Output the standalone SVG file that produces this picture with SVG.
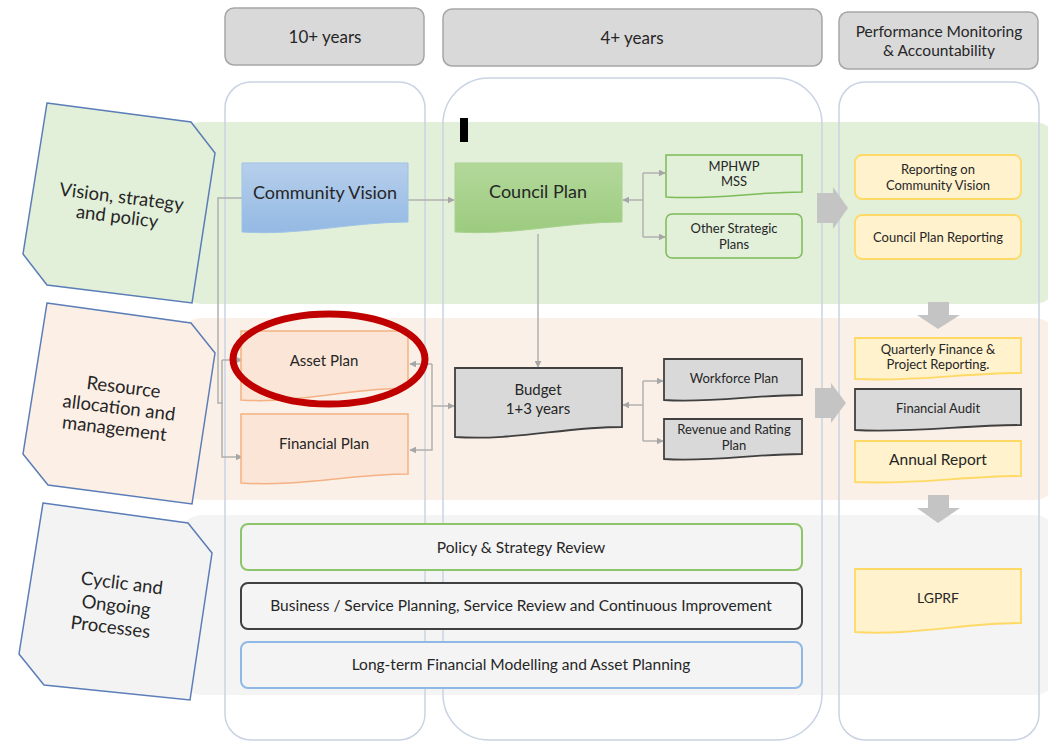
<svg xmlns="http://www.w3.org/2000/svg" width="1048" height="743" viewBox="0 0 1048 743">
<defs>
<style>
text{font-family:Lato,"Open Sans","Liberation Sans",sans-serif;fill:#262626;text-anchor:middle}
.hdr{fill:#d9d9d9;stroke:#a6a6a6;stroke-width:1.5}
.col{fill:none;stroke:#c9d3e3;stroke-width:1.5}
.side{stroke:#5b7db8;stroke-width:1.5}
.con{fill:none;stroke:#b0b0b0;stroke-width:1.5}
.blk{fill:#c4c4c4}
.grn{fill:#e2efd9;stroke:#7cbb57;stroke-width:1.5}
.yel{fill:#fff2cc;stroke:#ffd966;stroke-width:1.8}
.gry{fill:#d9d9d9;stroke:#404040;stroke-width:1.8}
.org{fill:#fbe5d6;stroke:#f4b183;stroke-width:1.5}
.t11{font-size:13px}
.t13{font-size:15.5px}
.t14{font-size:17px}
.tar{font-size:15.5px}
.t15{font-size:15px}
.t16{font-size:18px}
.t17{font-size:18.5px}
.tph{font-size:15.5px}
</style>
<linearGradient id="gBlue" x1="0" y1="0" x2="0" y2="1"><stop offset="0" stop-color="#b6cfec"/><stop offset="1" stop-color="#94b9e3"/></linearGradient>
<linearGradient id="gGreen" x1="0" y1="0" x2="0" y2="1"><stop offset="0" stop-color="#b3d89a"/><stop offset="1" stop-color="#9ccb7f"/></linearGradient>
<marker id="ah" viewBox="0 0 10 10" refX="9" refY="5" markerWidth="7" markerHeight="7" orient="auto-start-reverse" markerUnits="userSpaceOnUse"><path d="M0,0 L10,5 L0,10 Z" fill="#a6a6a6"/></marker>
</defs>
<rect width="1048" height="743" fill="#ffffff"/>

<!-- row bands -->
<g id="bands">
<rect x="178" y="122" width="880" height="182" rx="24" fill="#e2efd9"/>
<rect x="178" y="318" width="880" height="182" rx="24" fill="#fbf0e7"/>
<rect x="178" y="515" width="880" height="180" rx="24" fill="#f4f4f4"/>
</g>

<!-- columns -->
<g id="columns">
<rect class="col" x="225" y="82" width="200" height="658" rx="26"/>
<rect class="col" x="443" y="78" width="379" height="662" rx="46"/>
<rect class="col" x="839" y="82" width="200" height="658" rx="26"/>
</g>

<!-- headers -->
<g id="hdr-10">
<rect class="hdr" x="225" y="8" width="199" height="57" rx="9"/>
<text class="t14" x="325" y="43">10+ years</text>
</g>
<g id="hdr-4">
<rect class="hdr" x="443" y="9" width="379" height="57" rx="9"/>
<text class="t14" x="632" y="44">4+ years</text>
</g>
<g id="hdr-perf">
<rect class="hdr" x="839" y="12" width="199" height="57" rx="9"/>
<text class="tph" x="939" y="37">Performance Monitoring</text>
<text class="tph" x="939" y="56">&amp; Accountability</text>
</g>

<!-- side labels -->
<g id="side-vision">
<polygon class="side" fill="#e2efd9" points="47,103 191,122 215,153 192,303 47,285 23,254"/>
<g transform="rotate(7,119,210)">
<text class="t17" x="120" y="203">Vision, strategy</text>
<text class="t17" x="118" y="223">and policy</text>
</g>
</g>
<g id="side-resource">
<polygon class="side" fill="#fcefe6" points="47,303 191,323 215,353 192,504 48,485 23,454"/>
<g transform="rotate(7,119,408)">
<text class="t17" x="121" y="393">Resource</text>
<text class="t17" x="119" y="414">allocation and</text>
<text class="t17" x="117" y="435">management</text>
</g>
</g>
<g id="side-cyclic">
<polygon class="side" fill="#f3f3f3" points="43,503 188,523 212,553 190,700 44,685 19,654"/>
<g transform="rotate(7,117,607)">
<text class="t17" x="119" y="589">Cyclic and</text>
<text class="t17" x="116" y="612">Ongoing</text>
<text class="t17" x="113" y="634">Processes</text>
</g>
</g>

<!-- connectors -->
<g id="connectors">
<path class="con" d="M243,198 H218 V403 H223"/>
<path class="con" d="M222,360 H242" marker-end="url(#ah)"/>
<path class="con" d="M222,360 V457 H242" marker-end="url(#ah)"/>
<path class="con" d="M432,364 H410" marker-end="url(#ah)"/>
<path class="con" d="M432,364 V450 H410" marker-end="url(#ah)"/>
<path class="con" d="M432,406 H454" marker-end="url(#ah)"/>
<path class="con" d="M408,200 H454" marker-end="url(#ah)"/>
<path class="con" d="M538,234 V367" marker-end="url(#ah)"/>
<path class="con" d="M643,200 H623" marker-end="url(#ah)"/>
<path class="con" d="M643,173 V237"/>
<path class="con" d="M643,173 H665" marker-end="url(#ah)"/>
<path class="con" d="M643,237 H665" marker-end="url(#ah)"/>
<path class="con" d="M643,405 H623" marker-end="url(#ah)"/>
<path class="con" d="M643,381 V441"/>
<path class="con" d="M643,381 H663" marker-end="url(#ah)"/>
<path class="con" d="M643,441 H663" marker-end="url(#ah)"/>
<polygon class="blk" points="817,193 833,193 833,187 848,208 833,229 833,223 817,223"/>
<polygon class="blk" points="815,388 831,388 831,383 846,403 831,423 831,418 815,418"/>
<polygon class="blk" points="928,302 949,302 949,315 960,315 938,329 917,315 928,315"/>
<polygon class="blk" points="928,495 949,495 949,508 960,508 938,523 917,508 928,508"/>
</g>

<!-- vision row -->
<g id="community-vision">
<path d="M242,163 H408 V222 C350,222 300,236 242,232 Z" fill="url(#gBlue)" stroke="#9dc3e6" stroke-width="1"/>
<text class="t16" x="325" y="199">Community Vision</text>
</g>
<g id="council-plan">
<path d="M455,163 H622 V222 C564,222 513,236 455,232 Z" fill="url(#gGreen)" stroke="#a9d18e" stroke-width="1"/>
<text class="t16" x="538" y="198">Council Plan</text>
</g>
<g id="mphwp">
<path class="grn" d="M666,155 H802 V192 C754,192 714,200 666,197 Z"/>
<text class="t11" x="734" y="171">MPHWP</text>
<text class="t11" x="734" y="186">MSS</text>
</g>
<g id="other-plans">
<rect class="grn" x="666" y="214" width="136" height="44" rx="6"/>
<text class="t11" x="734" y="233">Other Strategic</text>
<text class="t11" x="734" y="249">Plans</text>
</g>
<g id="reporting-vision">
<rect class="yel" x="855" y="155" width="166" height="44" rx="7"/>
<text class="t11" x="938" y="174">Reporting on</text>
<text class="t11" x="938" y="190">Community Vision</text>
</g>
<g id="council-plan-reporting">
<rect class="yel" x="855" y="215" width="166" height="44" rx="7"/>
<text class="t11" x="938" y="242">Council Plan Reporting</text>
</g>

<!-- resource row -->
<g id="asset-plan">
<path class="org" d="M241,331 H408 V388 C350,388 300,404 241,400 Z"/>
<text class="t15" x="324" y="366">Asset Plan</text>
</g>
<g id="financial-plan">
<path class="org" d="M241,414 H408 V474 C350,474 300,487 241,483 Z"/>
<text class="t15" x="324" y="449">Financial Plan</text>
</g>
<g id="budget">
<path class="gry" d="M455,368 H622 V427 C564,427 513,441 455,437 Z"/>
<text class="t15" x="538" y="395">Budget</text>
<text class="t15" x="538" y="414">1+3 years</text>
</g>
<g id="workforce-plan">
<path class="gry" d="M664,359 H802 V395 C754,395 712,403 664,400 Z"/>
<text class="t11" x="734" y="383">Workforce Plan</text>
</g>
<g id="revenue-plan">
<path class="gry" d="M664,419 H802 V454 C754,454 712,462 664,459 Z"/>
<text class="t11" x="734" y="434">Revenue and Rating</text>
<text class="t11" x="734" y="450">Plan</text>
</g>
<g id="quarterly">
<path class="yel" d="M855,338 H1021 V373 C964,373 913,382 855,379 Z"/>
<text class="t11" x="938" y="354">Quarterly Finance &amp;</text>
<text class="t11" x="938" y="369">Project Reporting.</text>
</g>
<g id="financial-audit">
<path class="gry" d="M855,389 H1021 V425 C964,425 913,433 855,430 Z"/>
<text class="t11" x="938" y="413">Financial Audit</text>
</g>
<g id="annual-report">
<path class="yel" d="M855,441 H1021 V476 C964,476 913,485 855,482 Z"/>
<text class="tar" x="938" y="465">Annual Report</text>
</g>

<!-- cyclic row -->
<g id="policy-review">
<rect x="241" y="524" width="561" height="46" rx="7" fill="#f4f4f4" stroke="#8cc56a" stroke-width="2"/>
<text class="t13" x="521" y="553">Policy &amp; Strategy Review</text>
</g>
<g id="business-planning">
<rect x="241" y="583" width="561" height="46" rx="7" fill="#f4f4f4" stroke="#404040" stroke-width="2"/>
<text class="t13" x="521" y="611">Business / Service Planning, Service Review and Continuous Improvement</text>
</g>
<g id="financial-modelling">
<rect x="241" y="642" width="561" height="46" rx="7" fill="#f4f4f4" stroke="#8fb9e4" stroke-width="2"/>
<text class="t13" x="521" y="670">Long-term Financial Modelling and Asset Planning</text>
</g>
<g id="lgprf">
<path class="yel" d="M855,569 H1021 V623 C964,623 913,636 855,632 Z"/>
<text class="t11" x="938" y="603" style="font-size:14px">LGPRF</text>
</g>

<!-- annotations -->
<rect x="460" y="118" width="8" height="24" fill="#000000"/>
<ellipse cx="329" cy="359" rx="96" ry="45" fill="none" stroke="#c00000" stroke-width="7"/>
</svg>
